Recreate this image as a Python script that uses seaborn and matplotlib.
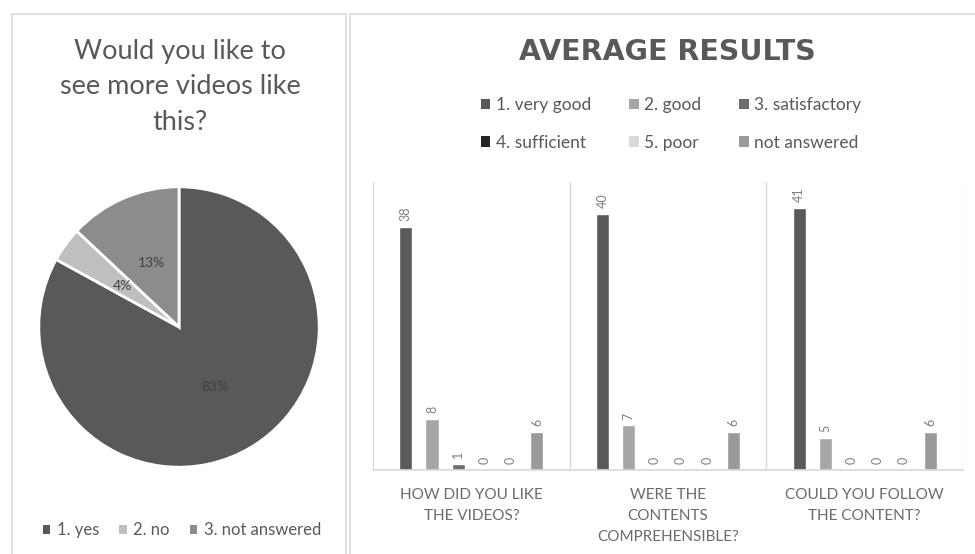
import matplotlib
matplotlib.use("Agg")
import matplotlib.pyplot as plt
from matplotlib.patches import Rectangle, Patch
import seaborn as sns
import pandas as pd

# ---- data ----
pie_labels = ["1. yes", "2. no", "3. not answered"]
pie_values = [83, 4, 13]

questions = ["HOW DID YOU LIKE\nTHE VIDEOS?",
             "WERE THE\nCONTENTS\nCOMPREHENSIBLE?",
             "COULD YOU FOLLOW\nTHE CONTENT?"]
ratings = ["1. very good", "2. good", "3. satisfactory",
           "4. sufficient", "5. poor", "not answered"]
very_good = [38, 40, 41]
good = [8, 7, 5]
satisfactory = [1, 0, 0]
sufficient = [0, 0, 0]
poor = [0, 0, 0]
not_answered = [6, 6, 6]

pie_colors = ["#595959", "#bfbfbf", "#8c8c8c"]
bar_colors = ["#595959", "#a6a6a6", "#6e6e6e", "#262626", "#d9d9d9", "#9a9a9a"]

sns.set_theme(style="white")
plt.rcParams['font.family'] = ['Lato', 'DejaVu Sans']

W, H = 975, 554
fig = plt.figure(figsize=(W / 100, H / 100), dpi=100)

def fx(px):
    return px / W

def fy(py):
    return 1 - py / H

# panel borders
fig.patches.append(Rectangle((fx(12), fy(560)), fx(346) - fx(12), fy(14) - fy(560),
                             transform=fig.transFigure, fill=False,
                             edgecolor="#d9d9d9", linewidth=1.2))
fig.patches.append(Rectangle((fx(350), fy(560)), fx(990) - fx(350), fy(14) - fy(560),
                             transform=fig.transFigure, fill=False,
                             edgecolor="#d9d9d9", linewidth=1.2))

# ---- pie ----
axp = fig.add_axes([fx(36), fy(470), fx(322) - fx(36), fy(184) - fy(470)])
wedges, texts, autotexts = axp.pie(
    pie_values, colors=pie_colors, startangle=90, counterclock=False,
    autopct="%.0f%%", pctdistance=0.5,
    wedgeprops=dict(edgecolor="white", linewidth=2),
    textprops=dict(color="#404040", fontsize=10))
axp.set_aspect("equal")
axp.set_xlim(-1.02, 1.02)
axp.set_ylim(-1.02, 1.02)

fig.text(fx(180), fy(87), "Would you like to\nsee more videos like\nthis?",
         ha="center", va="center", fontsize=19.5, color="#595959", linespacing=1.55)

handles_p = [Patch(facecolor=c, edgecolor="none") for c in pie_colors]
fig.legend(handles_p, pie_labels, loc="center", bbox_to_anchor=(fx(182), fy(530)),
           ncol=3, frameon=False, fontsize=12, labelcolor="#595959",
           handlelength=0.45, handleheight=0.45, handletextpad=0.4, columnspacing=1.2)

# ---- bars ----
rows = []
series = [very_good, good, satisfactory, sufficient, poor, not_answered]
for r, vals in zip(ratings, series):
    for q, v in zip(questions, vals):
        rows.append({"question": q, "rating": r, "value": v})
df = pd.DataFrame(rows)

axb = fig.add_axes([fx(373), fy(470), fx(963) - fx(373), fy(182) - fy(470)])
sns.barplot(data=df, x="question", y="value", hue="rating", order=questions,
            hue_order=ratings, palette=bar_colors, width=0.8, gap=0.5,
            ax=axb, legend=False, saturation=1)
for cont in axb.containers:
    axb.bar_label(cont, rotation=90, padding=4, fontsize=9, color="#7f7f7f")
axb.set_ylim(0, 45)
axb.set_xlim(-0.5, 2.5)
axb.set_xlabel("")
axb.set_ylabel("")
axb.set_yticks([])
for s in ["top", "right", "left"]:
    axb.spines[s].set_visible(False)
axb.spines["bottom"].set_color("#d9d9d9")
for xv in [-0.5, 0.5, 1.5, 2.5]:
    axb.axvline(xv, color="#d9d9d9", linewidth=1, zorder=0)
axb.tick_params(axis="x", length=0, pad=13)
axb.set_xticks(range(len(questions)))
axb.set_xticklabels(questions, fontsize=11, color="#6b6b6b",
                    linespacing=1.65, va="top")

fig.text(fx(667), fy(52), "AVERAGE RESULTS", ha="center", va="center",
         fontsize=20.5, fontweight="bold", color="#595959", family=["DejaVu Sans"])

# legend laid out row-wise (matplotlib fills columns first)
order = [0, 3, 1, 4, 2, 5]
handles_b = [Patch(facecolor=bar_colors[i], edgecolor="none") for i in order]
labels_b = [ratings[i] for i in order]
fig.legend(handles_b, labels_b, loc="center", bbox_to_anchor=(fx(671), fy(124)),
           ncol=3, frameon=False, fontsize=12.5, labelcolor="#595959",
           handlelength=0.55, handleheight=0.55, handletextpad=0.3,
           columnspacing=2.2, labelspacing=1.25)

fig.savefig("out.png", dpi=100, facecolor="white")
